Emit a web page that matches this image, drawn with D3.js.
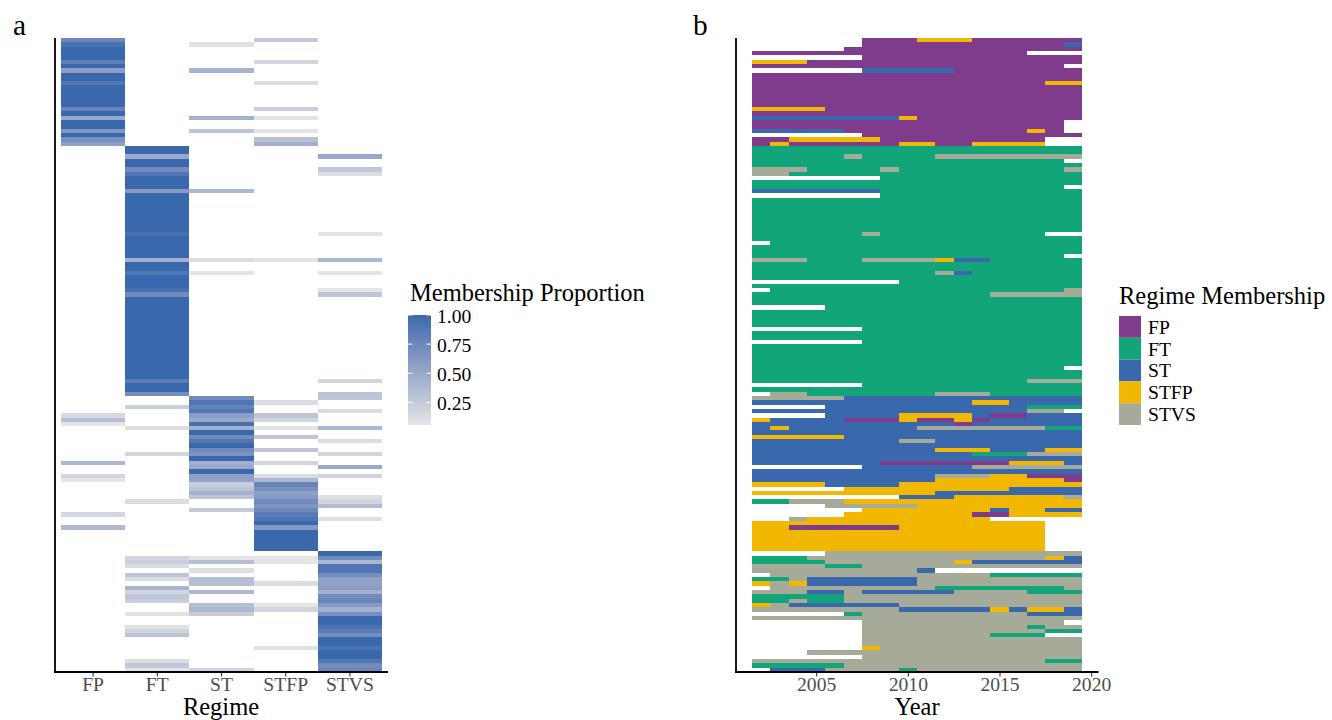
<!DOCTYPE html>
<html>
<head>
<meta charset="utf-8">
<script src="https://cdn.jsdelivr.net/npm/d3@7/dist/d3.min.js"></script>
<style>
  body { margin: 0; background: #fff; }
  text { font-family: 'Liberation Serif', 'Times New Roman', serif; }
</style>
</head>
<body>
<div id="chart"></div>
<script>
const regimes = ['FP', 'FT', 'ST', 'STFP', 'STVS']
const regimeCodes = ['P', 'T', 'S', 'Y', 'V']
const regimeColors = ['#7F3C8D', '#11A579', '#3969AC', '#F2B701', '#A5AA99']
const years = [2002, 2003, 2004, 2005, 2006, 2007, 2008, 2009, 2010,
  2011, 2012, 2013, 2014, 2015, 2016, 2017, 2018, 2019]
const yearTicks = [2005, 2010, 2015, 2020]
const proportionTicks = [0.25, 0.5, 0.75, 1]

// one string per country, one letter per year (groups of 6 years: 2002-07, 2008-13, 2014-19)
// P = FP, T = FT, S = ST, Y = STFP, V = STVS, '.' = no data
const sequences = [
  '...... PPPYYY PPPPPP',
  '...... PPPPPP PPPPPS',
  '.....P PPPPPP PPPPPP',
  'PPPPPP PPPPPP PPP...',
  '...... PPPPPP PPPPPP',
  'YYYPPP PPPPPP PPPPPP',
  'PPPPPP PPPPPP PPPPP.',
  '...... SSSSSP PPPPPP',
  'PPPPPP PPPPPP PPPPPP',
  'PPPPPP PPPPPP PPPPPP',
  'PPPPPP PPPPPP PPPPYY',
  'PPPPPP PPPPPP PPPPPP',
  'PPPPPP PPPPPP PPPPPP',
  'PPPPPP PPPPPP PPPPPP',
  'PPPPPP PPPPPP PPPPPP',
  'PPPPPP PPPPPP PPPPPP',
  'YYYYPP PPPPPP PPPPPP',
  'PPPPPP PPPPPP PPPPPP',
  'SSSSSS SSYPPP PPPPPP',
  'PPPPPP PPPPPP PPPPP.',
  'PPPPPP PPPPPP PPPPP.',
  'SSSSSP PPPPPP PPPYP.',
  '...... PPPPPP PPPPPP',
  'PPYYYY YPPPPP PPPP..',
  'PYPPPP PPYYPP YYYY..',
  // FT
  'TTTTTT TTTTTT TTTTTT',
  'TTTTTT TTTTTT TTTTTT',
  'TTTTTV TTTTVV VVVVVV',
  'TTTTTT TTTTTT TTTTT.',
  'TTTTTT TTTTTT TTTTTT',
  'VVVTTT TVTTTT TTTTTV',
  'VVTTTT TTTTTT TTTTTT',
  '...... .TTTTT TTTTTT',
  'TTTTTT TTTTTT TTTTTT',
  'TTTTTT TTTTTT TTTTT.',
  'SSSSSS STTTTT TTTTTT',
  '...... .TTTTT TTTTTT',
  'TTTTTT TTTTTT TTTTTT',
  'TTTTTT TTTTTT TTTTTT',
  'TTTTTT TTTTTT TTTTTT',
  'TTTTTT TTTTTT TTTTTT',
  'TTTTTT TTTTTT TTTTTT',
  'TTTTTT TTTTTT TTTTTT',
  'TTTTTT TTTTTT TTTTTT',
  'TTTTTT TTTTTT TTTTTT',
  'TTTTTT VTTTTT TTTT..',
  'TTTTTT TTTTTT TTTTTT',
  '.TTTTT TTTTTT TTTTTT',
  'TTTTTT TTTTTT TTTTTT',
  'TTTTTT TTTTTT TTTTTT',
  'TTTTTT TTTTTT TTTTT.',
  'VVVTTT VVVVYS STTTTT',
  'TTTTTT TTTTTT TTTTTT',
  'TTTTTT TTTTTT TTTTTT',
  'TTTTTT TTTTVS TTTTTT',
  'TTTTTT TTTTTT TTTTTT',
  '...... ..TTTT TTTTTT',
  'TTTTTT TTTTTT TTTTTT',
  '.TTTTT TTTTTT TTTTTV',
  'TTTTTT TTTTTT TVVVVV',
  'TTTTTT TTTTTT TTTTTT',
  'TTTTTT TTTTTT TTTTTT',
  '....TT TTTTTT TTTTTT',
  'TTTTTT TTTTTT TTTTTT',
  'TTTTTT TTTTTT TTTTTT',
  'TTTTTT TTTTTT TTTTTT',
  'TTTTTT TTTTTT TTTTTT',
  '...... TTTTTT TTTTTT',
  'TTTTTT TTTTTT TTTTTT',
  'TTTTTT TTTTTT TTTTTT',
  '...... TTTTTT TTTTTT',
  'TTTTTT TTTTTT TTTTTT',
  'TTTTTT TTTTTT TTTTTT',
  'TTTTTT TTTTTT TTTTTT',
  'TTTTTT TTTTTT TTTTTT',
  'TTTTTT TTTTTT TTTTTT',
  'TTTTTT TTTTTT TTTTT.',
  'TTTTTT TTTTTT TTTTTT',
  'TTTTTT TTTTTT TTTTTT',
  'TTTTTT TTTTTT TTTVVV',
  '...... TTTTTT TTTTTT',
  'TTTTTT TTTTTT TTTTTT',
  '.VVTTT TTTTVV VTTTTT',
  // ST
  'VVVVVS SSSSSS SSSSSS',
  'SSSSSS SSSSSS YYSSSS',
  '....SS SSSSSS SSSTTT',
  'SSSSSS SSSSSS SSSVV.',
  '....SS SSYYYY SPPSSS',
  'YSSSSP PPYPPY PSSSSS',
  'SSSSSS SSSSSP SSSSSS',
  'SYSSSS SSSVVV VVVVTT',
  'SSSSSS SSSSSS SSSSSS',
  'YYYYYS SSSSSS SSSSSS',
  'SSSSSS SSVVSS SSSSSS',
  'SSSSSS SSSSSS SSSSSS',
  'SSSSSS SSSSYY YSSSYY',
  'SSSSSS SSSSSS TTTVVV',
  'SSSSSS SSSSSS SSSSSS',
  'SSSSSS SPPPPP PPYYYS',
  '...... SSSSSS VVVVVV',
  'SSSSSS SSSSSS SSSSSS',
  'SSSSSS SSSSVV VYYPPP',
  // STFP
  'SSSSSS SSSSYY YYYYYP',
  'YYYYSS SSYYYY YYYYYY',
  '.....Y YYYYYY YYSSSS',
  'YYYYYY YYYYSS SSSSSS',
  '...... ..SSSY YYYYYV',
  'TTVVVY YYYYYY YYYYYY',
  '....VV VVVYYY YYYYYY',
  '...... YYYYYY YSYYSS',
  '.....Y YYYYYY PPYYYY',
  '..VYYY YYYYYY Y.....',
  'YYYYYY YYYYYY YYYY..',
  'YYPPPP PPYYYY YYYY..',
  'YYYYYY YYYYYY YYYY..',
  'YYYYYY YYYYYY YYYY..',
  'YYYYYY YYYYYY YYYY..',
  'YYYYYY YYYYYY YYYY..',
  'YYYYYY YYYYYY YYYY..',
  // STVS
  '....VV VVVVVV VVVVVV',
  'TTTVVV VVVVVV VVVVYS',
  'TTTTVV VVVVVY SSSSSS',
  'VVVVTT VVVVVV VVVVVV',
  'VVVVVV VVVS.. ......',
  '.VVVVV VVVVVV VTTTTT',
  'TTVSSS SSSVVV VVVVVV',
  'YVYSSS SSSVVV VVVVVV',
  '.VVVVV VVVVTT TTTTTV',
  'VVVSSV SSSSSV VVVTTT',
  'TTTTTV VVVVVV VVVVVV',
  'TTVTTV VVVVVV VVVVVV',
  'YVSSSS SSVVVV VVVVVV',
  'VVVVVV VVSSSS SYSYYS',
  '.....T VVVVVV VVVSSS',
  'VVVVVV VVVVVV VVVVVV',
  '...... VVVVVV VVVVV.',
  '...... VVVVVV VVVTVV',
  '...... VVVVVV VVVVTT',
  '...... VVVVVV VTTT..',
  '...... VVVVVV VVVVVV',
  '...... VVVVVV VVVVVV',
  '...... YVVVVV VVVVVV',
  '...VVV VVVVVV VVVVVV',
  '...... VVVVVV VVVVVV',
  'VVVVVV VVVVVV VVVVTT',
  'TTTTTV VVVVVV VVVVVV',
  '.SSSVV VVTVVV VVVVVV',
]

const width = 1332
const height = 720
const panelTop = 38
const panelBottom = 672

const svg = d3
  .select('#chart')
  .append('svg')
  .attr('width', width)
  .attr('height', height)

svg.append('rect').attr('width', width).attr('height', height).attr('fill', '#fff')

const rows = sequences.map((s) => s.replace(/ /g, '').split(''))
const y = d3
  .scaleBand()
  .domain(rows.map((r, i) => i))
  .range([panelTop, panelBottom])

// ---------- panel a: share of observed years in each regime ----------
const cells = []
rows.forEach((r, i) => {
  const observed = r.filter((c) => c !== '.')
  regimeCodes.forEach((code, j) => {
    const share = observed.filter((c) => c === code).length / observed.length
    if (share > 0) cells.push({ row: i, regime: regimes[j], value: share })
  })
})

const minShare = d3.min(cells, (d) => d.value)
const fillA = d3
  .scaleLinear()
  .domain([minShare, 1])
  .range(['#E5E5E5', '#3969AC'])
  .interpolate(d3.interpolateLab)

const xA = d3.scaleBand().domain(regimes).range([61, 382])

svg
  .append('g')
  .selectAll('rect')
  .data(cells)
  .join('rect')
  .attr('x', (d) => xA(d.regime))
  .attr('y', (d) => y(d.row))
  .attr('width', xA.bandwidth())
  .attr('height', y.bandwidth())
  .attr('fill', (d) => fillA(d.value))
  .attr('shape-rendering', 'crispEdges')

const axisA = svg
  .append('g')
  .attr('transform', `translate(0,${panelBottom})`)
  .call(d3.axisBottom(xA).tickSize(4.5).tickSizeOuter(0))
axisA.select('.domain').remove()
axisA.selectAll('.tick line').attr('stroke', '#333').attr('stroke-width', 1.1)
axisA
  .selectAll('.tick text')
  .attr('y', 19)
  .attr('dy', null)
  .attr('fill', '#4D4D4D')
  .style('font-size', '19.6px')
  .style('font-family', "'Liberation Serif', serif")

svg.append('line').attr('x1', 54).attr('x2', 388).attr('y1', panelBottom).attr('y2', panelBottom)
  .attr('stroke', '#000').attr('stroke-width', 1.8)
svg.append('line').attr('x1', 55).attr('x2', 55).attr('y1', panelTop).attr('y2', panelBottom + 0.9)
  .attr('stroke', '#000').attr('stroke-width', 1.8)

svg.append('text').attr('x', 221).attr('y', 715).attr('text-anchor', 'middle')
  .style('font-size', '24.5px').text('Regime')
svg.append('text').attr('x', 13).attr('y', 35).style('font-size', '29.4px').text('a')

// legend a
const legA = svg.append('g')
const legScale = d3.scaleLinear().domain([minShare, 1]).range([425, 315])
const grad = svg
  .append('defs')
  .append('linearGradient')
  .attr('id', 'shareGrad')
  .attr('x1', 0).attr('x2', 0).attr('y1', 1).attr('y2', 0)
d3.range(0, 1.0001, 0.05).forEach((t) => {
  grad.append('stop').attr('offset', t).attr('stop-color', fillA(minShare + t * (1 - minShare)))
})
legA.append('text').attr('x', 410).attr('y', 301).style('font-size', '24.5px').text('Membership Proportion')
legA.append('rect').attr('x', 408).attr('y', 315).attr('width', 23).attr('height', 110)
  .attr('fill', 'url(#shareGrad)')
proportionTicks.forEach((v) => {
  const py = legScale(v)
  legA.append('line').attr('x1', 408).attr('x2', 412.6).attr('y1', py).attr('y2', py)
    .attr('stroke', '#fff').attr('stroke-width', 1)
  legA.append('line').attr('x1', 426.4).attr('x2', 431).attr('y1', py).attr('y2', py)
    .attr('stroke', '#fff').attr('stroke-width', 1)
  legA.append('text').attr('x', 437).attr('y', py + 1).attr('dy', '0.35em')
    .style('font-size', '19.6px').text(v.toFixed(2))
})

// ---------- panel b: regime in each year ----------
const xB = d3.scaleLinear().domain([2000.6, 2020.4]).range([735.5, 1098.5])
const colorB = d3.scaleOrdinal().domain(regimeCodes).range(regimeColors)

const tiles = []
rows.forEach((r, i) => {
  r.forEach((c, k) => {
    if (c !== '.') tiles.push({ row: i, year: years[k], code: c })
  })
})

svg
  .append('g')
  .selectAll('rect')
  .data(tiles)
  .join('rect')
  .attr('x', (d) => xB(d.year - 0.5))
  .attr('y', (d) => y(d.row))
  .attr('width', (d) => xB(d.year + 0.5) - xB(d.year - 0.5))
  .attr('height', y.bandwidth())
  .attr('fill', (d) => colorB(d.code))
  .attr('shape-rendering', 'crispEdges')

const axisB = svg
  .append('g')
  .attr('transform', `translate(0,${panelBottom})`)
  .call(d3.axisBottom(xB).tickValues(yearTicks).tickFormat(d3.format('d')).tickSize(4.5).tickSizeOuter(0))
axisB.select('.domain').remove()
axisB.selectAll('.tick line').attr('stroke', '#333').attr('stroke-width', 1.1)
axisB
  .selectAll('.tick text')
  .attr('y', 19)
  .attr('dy', null)
  .attr('fill', '#4D4D4D')
  .style('font-size', '19.6px')
  .style('font-family', "'Liberation Serif', serif")

svg.append('line').attr('x1', 735).attr('x2', 1098.5).attr('y1', panelBottom).attr('y2', panelBottom)
  .attr('stroke', '#000').attr('stroke-width', 1.8)
svg.append('line').attr('x1', 736).attr('x2', 736).attr('y1', panelTop).attr('y2', panelBottom + 0.9)
  .attr('stroke', '#000').attr('stroke-width', 1.8)

svg.append('text').attr('x', 917).attr('y', 715).attr('text-anchor', 'middle')
  .style('font-size', '24.5px').text('Year')
svg.append('text').attr('x', 693).attr('y', 35).style('font-size', '29.4px').text('b')

// legend b
const legB = svg.append('g')
legB.append('text').attr('x', 1119).attr('y', 304).style('font-size', '24.5px').text('Regime Membership')
regimes.forEach((r, j) => {
  const ky = 316 + j * 21.8
  legB.append('rect').attr('x', 1119).attr('y', ky).attr('width', 22).attr('height', 21.8)
    .attr('fill', regimeColors[j])
  legB.append('text').attr('x', 1148).attr('y', ky + 10.9).attr('dy', '0.35em')
    .style('font-size', '19.6px').text(r)
})
</script>
</body>
</html>
